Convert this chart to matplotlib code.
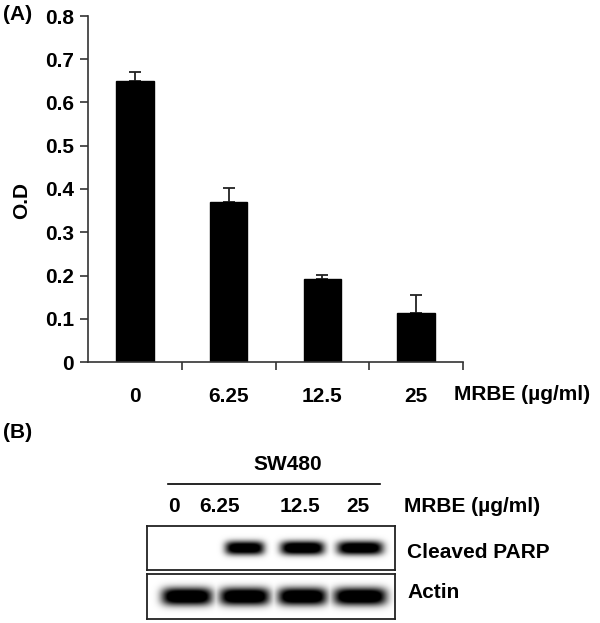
import numpy as np
import matplotlib
matplotlib.use("Agg")
import matplotlib.pyplot as plt

# ==============
# Data
# ==============
doses = ["0", "6.25", "12.5", "25"]
od_mean = [0.65, 0.37, 0.192, 0.113]
od_err = [0.02, 0.032, 0.009, 0.042]

lanes = ["0", "6.25", "12.5", "25"]
parp_intensity = [0.0, 0.95, 1.0, 0.97]
parp_width = [0.0, 0.68, 0.76, 0.80]
actin_intensity = [1.0, 1.0, 1.0, 1.0]
actin_width = [0.88, 0.87, 0.85, 0.92]

plt.rcParams["font.family"] = ["Liberation Sans", "DejaVu Sans"]
plt.rcParams["font.weight"] = "bold"
FS = 15

W, H = 600, 623
fig = plt.figure(figsize=(W / 100, H / 100), dpi=100)


def box(x0, y0, x1, y1):
    """pixel box (top-left origin) -> figure rect"""
    return [x0 / W, 1 - y1 / H, (x1 - x0) / W, (y1 - y0) / H]


def pt(x, y):
    return x / W, 1 - y / H


# ==============
# (A) bar chart
# ==============
ax = fig.add_axes(box(88, 16, 463, 362))
x = np.arange(len(doses))
ax.bar(x, od_mean, width=0.4, color="black", edgecolor="black", zorder=2)
ax.errorbar(x, od_mean, yerr=[np.zeros(len(od_err)), od_err], fmt="none",
            ecolor="#222222", elinewidth=1.3, capsize=4, capthick=1.3, zorder=1)
ax.set_xlim(-0.5, len(doses) - 0.5)
ax.set_ylim(0, 0.8)
ax.set_yticks(np.arange(0, 0.81, 0.1))
ax.set_yticklabels(["0"] + [f"{v:.1f}" for v in np.arange(0.1, 0.81, 0.1)])
ax.set_xticks(np.arange(0.5, len(doses)), minor=False)
ax.set_xticklabels([])
ax.set_xticks(x, minor=True)
ax.set_xticklabels(doses, minor=True)
ax.tick_params(axis="x", which="major", direction="out", length=6, width=1.2, color="#333333")
ax.tick_params(axis="x", which="minor", length=0, pad=18, labelsize=FS)
ax.tick_params(axis="y", direction="out", length=6, width=1.2, color="#333333",
               labelsize=FS, pad=4)
for s in ["top", "right"]:
    ax.spines[s].set_visible(False)
for s in ["left", "bottom"]:
    ax.spines[s].set_linewidth(1.2)
    ax.spines[s].set_color("#333333")

fig.text(*pt(22, 200), "O.D", rotation=90, ha="center", va="center", fontsize=FS)
fig.text(*pt(454, 395), "MRBE (µg/ml)", ha="left", va="center", fontsize=FS)
fig.text(*pt(3, 15), "(A)", ha="left", va="center", fontsize=FS)

# ==============
# (B) western blot
# ==============
fig.text(*pt(3, 432), "(B)", ha="left", va="center", fontsize=FS)
fig.text(*pt(288, 465), "SW480", ha="center", va="center", fontsize=FS)
fig.add_artist(plt.Line2D([168 / W, 380 / W], [1 - 484 / H, 1 - 484 / H],
                          color="black", lw=1.2))
fig.text(*pt(404, 507), "MRBE (µg/ml)", ha="left", va="center", fontsize=FS)

lane_label_x = [174, 220, 300, 358]
for lx, lab in zip(lane_label_x, lanes):
    fig.text(*pt(lx, 507), lab, ha="center", va="center", fontsize=FS)

xlim = (-0.69, 3.6)


def blot(rect, inten, widths, thick, label, label_y):
    bax = fig.add_axes(rect)
    xs = np.linspace(xlim[0], xlim[1], 500)
    ys = np.linspace(-1, 1, 100)
    X, Y = np.meshgrid(xs, ys)
    img = np.zeros_like(X)
    for i, (a, w) in enumerate(zip(inten, widths)):
        if a <= 0:
            continue
        prof_x = np.exp(-np.abs((X - i) / (w / 2)) ** 5)
        prof_y = np.exp(-np.abs(Y / thick) ** 2.5)
        img = np.maximum(img, a * prof_x * prof_y)
    bax.imshow(np.clip(img * 1.3, 0, 1), cmap="gray_r", vmin=0, vmax=1,
               extent=[xlim[0], xlim[1], -1, 1], aspect="auto", interpolation="bilinear")
    bax.set_xlim(*xlim)
    bax.set_ylim(-1, 1)
    bax.set_xticks([])
    bax.set_yticks([])
    for s in bax.spines.values():
        s.set_linewidth(1.3)
        s.set_color("#222222")
    fig.text(*pt(407, label_y), label, ha="left", va="center", fontsize=FS)
    return bax


blot(box(147, 526, 395, 570), parp_intensity, parp_width, 0.32, "Cleaved PARP", 553)
blot(box(147, 574, 395, 619), actin_intensity, actin_width, 0.4, "Actin", 593)

fig.savefig("out.png", dpi=100)
